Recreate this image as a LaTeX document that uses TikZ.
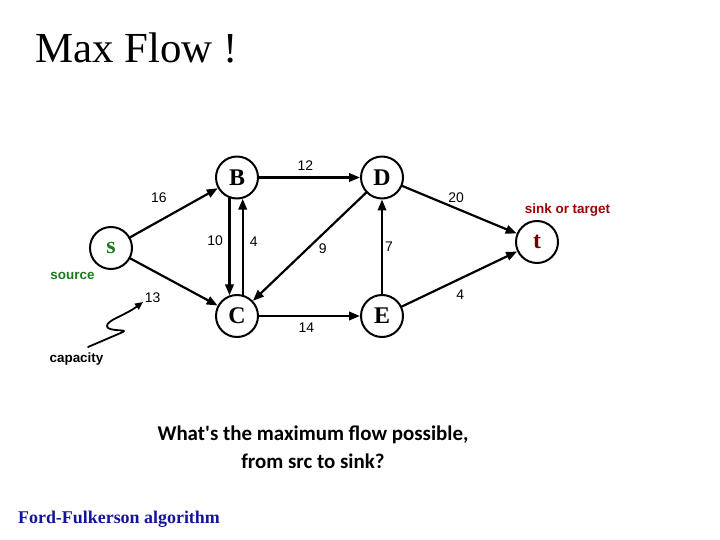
\documentclass[tikz,border=0pt]{standalone}
\usepackage{fontspec}
\setmainfont{Liberation Serif}
\newfontfamily\arialfont{Liberation Sans}
\newfontfamily\calibrifont{Carlito}
\usetikzlibrary{arrows.meta,positioning}
\definecolor{srcgreen}{RGB}{30,120,30}
\definecolor{sinkred}{RGB}{160,0,0}
\definecolor{sinkdark}{RGB}{110,0,0}
\definecolor{algoblue}{RGB}{20,20,150}
\begin{document}
\begin{tikzpicture}[x=1bp, y=-1bp, line cap=round, line join=round]
% Max flow network, coordinates in pixels of the slide
\def\edgewd{2.2bp}
\tikzset{
  vertex/.style={circle, draw, line width=2bp, minimum size=42bp, inner sep=0pt,
    font=\fontsize{24}{24}\selectfont\bfseries},
  flow/.style={line width=\edgewd, -{Triangle[length=11bp,width=8.5bp]}},
  caplbl/.style={font=\arialfont\fontsize{14}{14}\selectfont, inner sep=2bp},
  note/.style={font=\arialfont\bfseries\fontsize{13.5}{13.5}\selectfont, inner sep=0pt}
}
\useasboundingbox (0,0) rectangle (720,540);
% Title
\node[anchor=base west, inner sep=0pt, font=\fontsize{43}{43}\selectfont] (title) at (35,63) {Max Flow !};
% Vertices
\node[vertex, text=srcgreen] (s) at (111,248) {s};
\node[vertex] (B) at (237,177.5) {B};
\node[vertex] (C) at (237,316) {C};
\node[vertex] (D) at (382,177.5) {D};
\node[vertex] (E) at (382,316) {E};
\node[vertex, text=sinkdark] (t) at (537,242) {t};
% Edges with capacities
\draw[flow] (s) -- node[caplbl, pos=.45, above left=9bp and 0bp] {16} (B);
\draw[flow] (s) -- node[caplbl, pos=.39, below left=13bp and 1bp] {13} (C);
\draw[flow] (B.250) -- node[caplbl, pos=.44, left=3.5bp] {10} (C.110);
\draw[flow] (C.75) -- node[caplbl, pos=.55, right=4bp] {4} (B.285);
\draw[flow] (B) -- node[caplbl, pos=.46, above=3.5bp] {12} (D);
\draw[flow] (D) -- node[caplbl, pos=.445, below right=0bp] {9} (C);
\draw[flow] (C) -- node[caplbl, pos=.47, below=3.5bp] {14} (E);
\draw[flow] (E) -- node[caplbl, pos=.5, right=0bp] {7} (D);
\draw[flow] (D) -- node[caplbl, pos=.47, above=3bp] {20} (t);
\draw[flow] (E) -- node[caplbl, pos=.447, below right=5bp and 0bp] {4} (t);
% Annotations
\node[note, text=srcgreen] (srclbl) at (72.5,276) {source};
\node[note, text=sinkred] (sinklbl) at (567.5,210) {sink or target};
\node[note] (capnote) at (76.5,359) {capacity};
\coordinate (capstart) at (88,347);
\coordinate (captip) at (143,302);
\draw[line width=1.8bp, -{Triangle[length=8bp,width=7bp]}] (capstart) -- (123,332)
  .. controls (129,329) and (107,332) .. (107,326)
  .. controls (107,320) and (124,316) .. (captip);
% Question and algorithm name
\node[align=center, font=\calibrifont\bfseries\fontsize{21}{28}\selectfont] (question) at (313,447)
  {What's the maximum flow possible,\\from src to sink?};
\node[text=algoblue, font=\fontsize{18}{18}\selectfont\bfseries] (algo) at (119,519) {Ford-Fulkerson algorithm};
\end{tikzpicture}
\end{document}
